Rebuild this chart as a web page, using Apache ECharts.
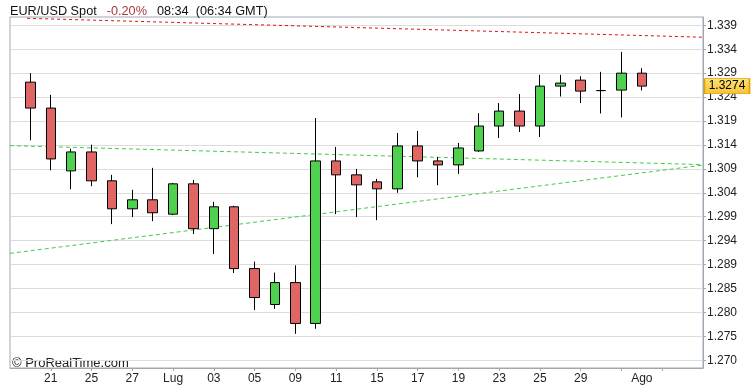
<!DOCTYPE html>
<html>
<head>
<meta charset="utf-8">
<script src="https://cdn.jsdelivr.net/npm/echarts@6/dist/echarts.min.js"></script>
<style>
html,body{margin:0;padding:0;background:#fff;}
#chart{width:751px;height:385px;}
</style>
</head>
<body>
<div id="chart"></div>
<script>
// ---- data ----
const dates = ['20','21','24','25','26','27','28','Lug','02','03','04','05','08','09','10','11','12','15','16','17','18','19','22','23','24','25','26','29','30','31','Ago'];
const opens  = [1.32706,1.32172,1.30878,1.31268,1.30673,1.30097,1.30282,1.29986,1.30611,1.29687,1.30138,1.28865,1.28125,1.28577,1.27735,1.31083,1.30796,1.30652,1.30508,1.31392,1.31083,1.31001,1.31289,1.31802,1.32110,1.31802,1.32624,1.32747,1.32532,1.32542,1.32891];
const closes = [1.32172,1.31124,1.31268,1.30673,1.30097,1.30282,1.30015,1.30611,1.29687,1.30138,1.28865,1.28269,1.28577,1.27735,1.31083,1.30796,1.30590,1.30508,1.31392,1.31083,1.31001,1.31350,1.31802,1.32110,1.31802,1.32624,1.32686,1.32521,1.32532,1.32891,1.32624];
const lows   = [1.31507,1.30890,1.30500,1.30562,1.29781,1.29925,1.29843,1.29966,1.29576,1.29165,1.28775,1.28014,1.28035,1.27521,1.27624,1.29986,1.29925,1.29863,1.30426,1.30747,1.30582,1.30816,1.31268,1.31556,1.31679,1.31576,1.32410,1.32275,1.32061,1.31979,1.32534];
const highs  = [1.32891,1.32445,1.31336,1.31418,1.30796,1.30488,1.30940,1.30631,1.30693,1.30241,1.30159,1.29009,1.28783,1.28933,1.31967,1.31371,1.30919,1.30714,1.31659,1.31700,1.31166,1.31453,1.32069,1.32275,1.32460,1.32856,1.32856,1.32829,1.32918,1.33329,1.32994];

// trend lines: [x index, price]
const redTrend    = [[-0.16, 1.34021], [33, 1.33631]];
const greenUpper  = [[-1, 1.31398], [33, 1.31007]];
const greenLower  = [[-1, 1.29179], [33, 1.30997]];

const xLabelIdx = [1,3,5,7,9,11,13,15,17,19,21,23,25,27,30];
const xTickIdx  = [1,3,5,7,9,11,13,15,17,19,21,23,25,27,29,31];
const yTickLabels = ['1.270','1.275','1.280','1.285','1.289','1.294','1.299','1.304','1.309','1.314','1.319','1.324','1.329','1.334','1.339'];
const lastPriceText = '1.3274';

// ---- scale ----
const yMin = 1.26817, yMax = 1.34048;
const gridBase = 1.26975, gridStep = 0.00493;
const yGridValues = yTickLabels.map((t, k) => gridBase + k * gridStep);

const candleData = dates.map((d, i) => [i, opens[i], closes[i], lows[i], highs[i]]);
const lastIdx = dates.length - 1;

const FONT = '"Liberation Sans", Arial, Helvetica, sans-serif';
const AXIS_COLOR = '#9ea8b0';
const GRID_COLOR = '#dcdcdc';

const chart = echarts.init(document.getElementById('chart'), null, {renderer: 'canvas'});
chart.setOption({
  animation: false,
  backgroundColor: '#ffffff',
  textStyle: {fontFamily: FONT},
  title: {
    left: 10, top: 2, padding: 0,
    text: '{a|EUR/USD Spot}  {b|-0.20%}  {a|08:34  (06:34 GMT)}',
    textStyle: {
      rich: {
        a: {fontFamily: FONT, fontSize: 12.7, color: '#111', fontWeight: 'normal'},
        b: {fontFamily: FONT, fontSize: 12.7, color: '#a83a3a', fontWeight: 'normal'}
      }
    }
  },
  grid: {
    left: 10, right: 48, top: 17, bottom: 16,
    show: true, borderColor: AXIS_COLOR, borderWidth: 1, backgroundColor: 'transparent'
  },
  xAxis: {
    type: 'value', min: -1, max: 33, interval: 1,
    splitLine: {show: false},
    axisLine: {show: true, onZero: false, lineStyle: {color: AXIS_COLOR}},
    axisTick: {show: true, length: 3, customValues: xTickIdx, lineStyle: {color: AXIS_COLOR}},
    axisLabel: {
      customValues: xLabelIdx, margin: 5, fontSize: 12, color: '#222', fontFamily: FONT,
      formatter: v => dates[Math.round(v)] || ''
    }
  },
  yAxis: {
    type: 'value', min: yMin, max: yMax, position: 'right',
    axisLine: {show: true, onZero: false, lineStyle: {color: AXIS_COLOR}},
    axisTick: {show: true, length: 3, customValues: yGridValues, lineStyle: {color: AXIS_COLOR}},
    splitLine: {show: true, lineStyle: {color: GRID_COLOR, width: 1}},
    axisLabel: {
      customValues: yGridValues, margin: 4, fontSize: 12, color: '#222', fontFamily: FONT,
      formatter: v => yTickLabels[Math.round((v - gridBase) / gridStep)] || ''
    }
  },
  graphic: [{
    type: 'text', left: 12, top: 357,
    style: {text: '© ProRealTime.com', font: '13px ' + FONT, fill: '#222'}
  }],
  series: [
    {
      type: 'line', data: greenUpper, showSymbol: false, silent: true,
      lineStyle: {color: '#44cc44', width: 1, type: [4, 3]}, z: 2
    },
    {
      type: 'line', data: greenLower, showSymbol: false, silent: true,
      lineStyle: {color: '#44cc44', width: 1, type: [4, 3]}, z: 2
    },
    {
      type: 'line', data: redTrend, showSymbol: false, silent: true,
      lineStyle: {color: '#e01010', width: 1, type: [3, 3]}, z: 2
    },
    {
      type: 'candlestick', barWidth: 10,
      dimensions: ['x', 'open', 'close', 'low', 'high'],
      encode: {x: 'x', y: ['open', 'close', 'low', 'high']},
      data: candleData,
      itemStyle: {
        color: '#4fd14f', color0: '#e06666',
        borderColor: '#000', borderColor0: '#000', borderColorDoji: '#000',
        borderWidth: 1
      },
      z: 3,
      markPoint: {
        silent: true,
        data: [{
          coord: [33, closes[lastIdx]],
          symbol: 'rect', symbolSize: [45, 15], symbolOffset: [24, 0],
          itemStyle: {
            color: new echarts.graphic.LinearGradient(0, 0, 0, 1, [
              {offset: 0, color: '#ffe27a'}, {offset: 1, color: '#f6c232'}
            ]),
            borderColor: '#e3a300', borderWidth: 1
          },
          label: {
            show: true, position: 'inside',
            formatter: () => lastPriceText,
            fontSize: 12, color: '#000', fontFamily: FONT
          }
        }]
      }
    }
  ]
});
</script>
</body>
</html>
